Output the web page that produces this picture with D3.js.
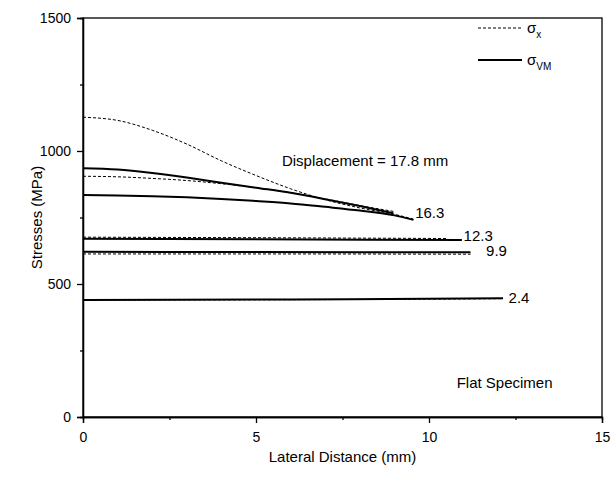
<!DOCTYPE html>
<html>
<head>
<meta charset="utf-8">
<script src="https://cdn.jsdelivr.net/npm/d3@7"></script>
<style>
  body { margin: 0; background: #fff; }
  svg { font-family: "Liberation Sans", Arial, sans-serif; }
</style>
</head>
<body>
<div id="wrapper"></div>
<script>
// data (x in mm, y in MPa)
const xTicks = [0, 5, 10, 15];
const xMinor = [2.5, 7.5, 12.5];
const yTicks = [0, 500, 1000, 1500];
const yMinor = [250, 750, 1250];

// sigma_x (dashed)
const sx178 = [[0,1127],[1,1115],[2,1078],[3,1026],[4,963],[5,908],[6,858],[7,817],[8,786],[9,762],[9.55,744]];
const sx163 = [[0,905],[1,903],[2,897],[3,889],[4,877],[5,862],[6,843],[7,820],[8,795],[8.97,773]];
const sx123 = [[0,676],[5,674],[10.5,671]];
const sx99  = [[0,613],[5,613],[11.2,612]];
const sx24  = [[0,440],[6,441],[12.1,445]];

// sigma_VM (solid)
const vm178 = [[0,935],[1,930],[2,917],[3,900],[4,881],[5,862],[6,843],[7,819],[8,793],[8.97,766]];
const vm163 = [[0,835],[1,833],[2,830],[3,826],[4,820],[5,812],[6,803],[7,790],[8,776],[9,758],[9.55,741]];
const vm123 = [[0,670],[5,668],[10.95,665]];
const vm99  = [[0,621],[5,620],[11.2,619]];
const vm24  = [[0,440],[6,442],[12.14,446]];

const dashedSeries = [sx178, sx163, sx123, sx99, sx24];
const solidSeries = [vm178, vm163, vm123, vm99, vm24];

// curve labels: [text, x, y]
const curveLabels = [
  ["Displacement = 17.8 mm", 5.75, 942],
  ["16.3", 9.6, 750],
  ["12.3", 11.0, 662],
  ["9.9", 11.65, 606],
  ["2.4", 12.3, 427]
];

const dimensions = {
  width: 612,
  height: 477,
  margins: { top: 18, right: 10, bottom: 60, left: 83 }
};
dimensions.boundedWidth = dimensions.width - dimensions.margins.left - dimensions.margins.right;
dimensions.boundedHeight = dimensions.height - dimensions.margins.top - dimensions.margins.bottom;

const svg = d3.select("#wrapper").append("svg")
  .attr("width", dimensions.width)
  .attr("height", dimensions.height);

const bounds = svg.append("g")
  .attr("transform", `translate(${dimensions.margins.left},${dimensions.margins.top})`);

const xScale = d3.scaleLinear().domain([0, 15]).range([0, dimensions.boundedWidth]);
const yScale = d3.scaleLinear().domain([0, 1500]).range([dimensions.boundedHeight, 0]);

// frame
bounds.append("rect")
  .attr("width", dimensions.boundedWidth)
  .attr("height", dimensions.boundedHeight)
  .attr("fill", "none")
  .attr("stroke", "#000")
  .attr("stroke-width", 1.3);

// axes
bounds.append("g")
  .attr("transform", `translate(0,${dimensions.boundedHeight})`)
  .call(d3.axisBottom(xScale).tickValues(xTicks).tickFormat(d3.format("d")).tickSize(6).tickPadding(9));
bounds.append("g")
  .attr("transform", `translate(0,${dimensions.boundedHeight})`)
  .call(d3.axisBottom(xScale).tickValues(xMinor).tickSize(3).tickFormat(""));
bounds.append("g")
  .call(d3.axisLeft(yScale).tickValues(yTicks).tickFormat(d3.format("d")).tickSize(6).tickPadding(6));
bounds.append("g")
  .call(d3.axisLeft(yScale).tickValues(yMinor).tickSize(3).tickFormat(""));

bounds.selectAll(".domain").attr("stroke-width", 1.3);
bounds.selectAll(".tick line").attr("stroke-width", 1.3);
bounds.selectAll(".tick text").style("font-size", "14px").attr("fill", "#000");

// axis titles
svg.append("text")
  .attr("x", dimensions.margins.left + dimensions.boundedWidth / 2)
  .attr("y", 462)
  .attr("text-anchor", "middle")
  .style("font-size", "15px")
  .text("Lateral Distance (mm)");

svg.append("text")
  .attr("transform", `translate(42,${dimensions.margins.top + dimensions.boundedHeight / 2}) rotate(-90)`)
  .attr("text-anchor", "middle")
  .style("font-size", "15px")
  .text("Stresses (MPa)");

// lines
const lineGenerator = d3.line()
  .x(d => xScale(d[0]))
  .y(d => yScale(d[1]))
  .curve(d3.curveMonotoneX);

bounds.selectAll(".dashed").data(dashedSeries).join("path")
  .attr("class", "dashed")
  .attr("d", lineGenerator)
  .attr("fill", "none")
  .attr("stroke", "#000")
  .attr("stroke-width", 1)
  .attr("stroke-dasharray", "3,2");

bounds.selectAll(".solid").data(solidSeries).join("path")
  .attr("class", "solid")
  .attr("d", lineGenerator)
  .attr("fill", "none")
  .attr("stroke", "#000")
  .attr("stroke-width", 2);

// curve labels
bounds.selectAll(".clabel").data(curveLabels).join("text")
  .attr("class", "clabel")
  .attr("x", d => xScale(d[1]))
  .attr("y", d => yScale(d[2]))
  .style("font-size", "15px")
  .text(d => d[0]);

bounds.append("text")
  .attr("x", xScale(10.8))
  .attr("y", yScale(110))
  .style("font-size", "15px")
  .text("Flat Specimen");

// legend
const legend = bounds.append("g");
const legendItems = [
  { dash: "3,2", width: 1, main: "σ", sub: "x" },
  { dash: null, width: 2, main: "σ", sub: "VM" }
];
legendItems.forEach((item, i) => {
  const ly = 10 + i * 32;
  legend.append("line")
    .attr("x1", 395).attr("x2", 439)
    .attr("y1", ly).attr("y2", ly)
    .attr("stroke", "#000")
    .attr("stroke-width", item.width)
    .attr("stroke-dasharray", item.dash);
  const t = legend.append("text")
    .attr("x", 444)
    .attr("y", ly + 5)
    .style("font-size", "15px");
  t.append("tspan").text(item.main);
  t.append("tspan").attr("dy", 5).style("font-size", "10px").text(item.sub);
});
</script>
</body>
</html>
